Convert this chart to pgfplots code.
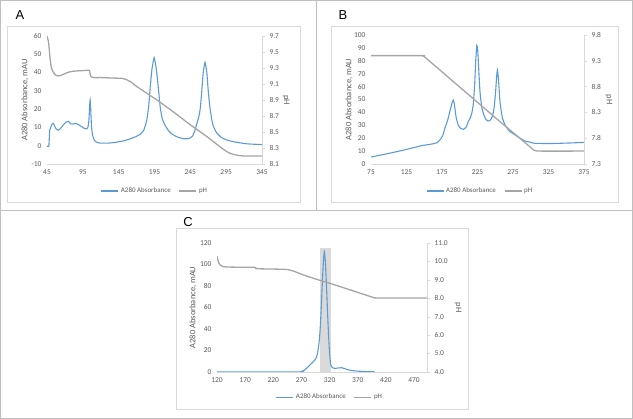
\documentclass[border=0pt]{standalone}
\usepackage{fontspec}
\setmainfont{Carlito}
\newfontfamily\panelfont{Liberation Sans}
\usepackage{pgfplots}
\pgfplotsset{compat=1.18}

\definecolor{absblue}{HTML}{5B9BD5}
\definecolor{phgray}{HTML}{A5A5A5}
\definecolor{txt}{HTML}{595959}
\definecolor{axisln}{HTML}{D9D9D9}
\definecolor{framegray}{HTML}{BFBFBF}
\definecolor{band}{HTML}{DADADA}

\newcommand\tickfont{\fontsize{7.5}{9}\selectfont}
\newcommand\labfont{\fontsize{8.5}{10}\selectfont}
\newcommand\legfont{\fontsize{7}{8}\selectfont}

\pgfplotsset{
  base/.style={
    scale only axis,
    ticklabel style={font=\tickfont, text=txt},
    label style={font=\labfont, text=txt},
    /pgf/number format/assume math mode=true,
  },
  prim/.style={
    base,
    axis x line*=bottom, axis y line*=left,
    x axis line style={axisln, -},
    y axis line style={draw=none},
    major tick length=0pt,
    xticklabel style={yshift=-2bp},
    yticklabel style={xshift=-2bp},
    ylabel style={anchor=center},
    legend style={draw=none, fill=none, font=\legfont, text=txt,
      legend columns=2, anchor=center,
      /tikz/every even column/.append style={column sep=6bp}},
    legend image code/.code={\draw[##1] (0bp,0bp) -- (17bp,0bp);},
  },
  sec/.style={
    base,
    axis x line=none, axis y line*=right,
    y axis line style={axisln, -},
    tick align=outside, major tick length=3bp,
    ytick style={axisln},
    yticklabel style={xshift=1bp},
    ylabel style={rotate=180, anchor=center},
  },
  absline/.style={absblue, line width=1.1bp, smooth, tension=0.3},
  phline/.style={phgray, line width=1.3bp, smooth, tension=0.3},
}

\begin{document}
\begin{tikzpicture}
\useasboundingbox (0,0) rectangle (633bp,419bp);
% frames
\draw[framegray, line width=0.8bp] (0.5bp,0.5bp) rectangle (632.5bp,418.5bp);
\draw[framegray, line width=0.8bp] (0,209bp) -- (633bp,209bp);
\draw[framegray, line width=0.8bp] (316bp,209bp) -- (316bp,419bp);
\draw[axisln, line width=0.6bp] (7bp,217bp) rectangle (300bp,393bp);
\draw[axisln, line width=0.6bp] (331bp,217bp) rectangle (618bp,393bp);
\draw[axisln, line width=0.6bp] (176bp,10bp) rectangle (468bp,191bp);
\node[font=\panelfont\fontsize{13}{15}\selectfont] at (20bp,404bp) {A};
\node[font=\panelfont\fontsize{13}{15}\selectfont] at (343bp,404bp) {B};
\node[font=\panelfont\fontsize{13}{15}\selectfont] at (188bp,197bp) {C};

% ---------- panel A ----------
\begin{axis}[prim, at={(47bp,255bp)}, anchor=south west, width=215bp, height=128bp,
  xmin=45, xmax=345, ymin=-10, ymax=60,
  xtick={45,95,...,345}, ytick={-10,0,...,60},
  ylabel={A280 Absorbance, mAU},
  ylabel style={at={(axis description cs:-0.102,0.5)}},
  legend style={at={(0.502,-0.211)}}]
\addplot[absline] coordinates {
(45,-0.3) (47.5,-0.3) (48.2,4) (48.8,8.5) (50,9.8) (52,11.8) (54,12.2) (56,10.5)
(58,9) (61,8.5) (64,9.5) (68,11.5) (72,13) (75,13.3) (78,12) (81,11.8) (85,12.2)
(89,11.5) (93,10.5) (97,9.5) (100,9.2) (102,10) (103.5,14) (104.5,22) (105.2,25)
(106,20) (107,11) (108.5,6) (111,3) (115,1.8) (120,1.4) (130,1.4) (140,1.8)
(150,2.5) (160,3.6) (168,4.8) (175,6.2) (180,8.5) (184,13.5) (187,22) (189,32)
(191.5,42) (194.5,48.2) (197.5,42) (200,33) (203,21) (206,14.5) (210,11)
(215,8) (220,6.2) (228,4.6) (236,3.8) (243,3.9) (248,5.2) (251.5,8.5) (254,12)
(257,16) (259,21) (261,30) (263,40) (265.5,45.6) (268,40) (270,30) (272.5,20.5)
(276,12) (281,7.5) (288,4.6) (296,3.1) (305,2.2) (314,1.6) (325,1.0) (345,0.6)
};
\addlegendentry{A280 Absorbance}
\addlegendimage{phline}
\addlegendentry{pH}
\end{axis}
\begin{axis}[sec, at={(47bp,255bp)}, anchor=south west, width=215bp, height=128bp,
  xmin=45, xmax=345, ymin=8.1, ymax=9.7,
  ytick={8.1,8.3,8.5,8.7,8.9,9.1,9.3,9.5,9.7},
  yticklabel style={/pgf/number format/.cd, fixed, fixed zerofill, precision=1},
  ylabel={pH},
  ylabel style={at={(axis description cs:1.112,0.5)}}]
\addplot[phline] coordinates {
(45,9.7) (45.6,9.68) (46.5,9.65) (47.5,9.6) (48.5,9.5) (49.5,9.4) (51,9.31)
(53,9.26) (56,9.22) (60,9.2) (65,9.21) (70,9.23) (76,9.25) (82,9.26) (90,9.265)
(100,9.27) (104,9.27) (105,9.24) (106,9.195) (110,9.18) (120,9.18) (135,9.175)
(150,9.17) (157,9.15) (163,9.12) (170,9.07) (180,9.01) (190,8.95) (200,8.89)
(220,8.76) (245,8.59) (270,8.43) (290,8.29) (300,8.235) (310,8.21) (320,8.2)
(345,8.2)
};
\end{axis}

% ---------- panel B ----------
\begin{axis}[prim, at={(371bp,255bp)}, anchor=south west, width=213bp, height=129bp,
  xmin=75, xmax=375, ymin=0, ymax=100,
  xtick={75,125,...,375}, ytick={0,10,...,100},
  ylabel={A280 Absorbance, mAU},
  ylabel style={at={(axis description cs:-0.103,0.5)}},
  legend style={at={(0.512,-0.209)}}]
\addplot[absline] coordinates {
(75,5.4) (100,8.2) (125,11.3) (146,14.2) (160,15.4) (168,16.5) (172,18.6)
(176,22) (179,27.7) (183,34) (186,40.6) (189,47) (190.9,49.6) (192.5,46)
(195,36) (198,30) (201,27.8) (205,26.9) (209,28.5) (212,32.8) (215,36)
(217,39.5) (219,46) (221,62) (222.5,80) (224,91.8) (225.2,89) (226.5,76)
(228.5,56) (231,44) (234,38) (237,34.5) (240,33.3) (243,34) (246,37) (248.5,44)
(250.5,56) (252,68) (253,72.9) (254.5,66) (256.7,48) (260,36) (264,30)
(270,25.5) (278,22.5) (285,20) (292,17.8) (300,16.8) (306,16) (330,15.9)
(350,16.2) (365,16.5) (375,16.8)
};
\addlegendentry{A280 Absorbance}
\addlegendimage{phline}
\addlegendentry{pH}
\end{axis}
\begin{axis}[sec, at={(371bp,255bp)}, anchor=south west, width=213bp, height=129bp,
  xmin=75, xmax=375, ymin=7.3, ymax=9.8,
  ytick={7.3,7.8,8.3,8.8,9.3,9.8},
  yticklabel style={/pgf/number format/.cd, fixed, fixed zerofill, precision=1},
  ylabel={pH},
  ylabel style={at={(axis description cs:1.117,0.5)}}]
\addplot[phline] coordinates {
(75,9.4) (145,9.4) (148,9.395) (151,9.37) (200,8.79) (250,8.2) (300,7.62)
(304,7.57) (308,7.553) (312,7.55) (375,7.55)
};
\end{axis}

% ---------- panel C ----------
\begin{axis}[prim, at={(217bp,47bp)}, anchor=south west, width=210bp, height=129bp,
  xmin=120, xmax=493, ymin=0, ymax=120,
  xtick={120,170,...,470}, ytick={0,20,...,120},
  ylabel={A280 Absorbance, mAU},
  ylabel style={at={(axis description cs:-0.114,0.5)}},
  legend style={at={(0.538,-0.196)}},
  legend entries={A280 Absorbance, pH}]
\addlegendimage{absblue, line width=1.1bp}
\addlegendimage{phgray, line width=1.3bp}
% shaded fraction band, behind the curve
\addplot[fill=band, draw=none, forget plot] coordinates {
(303,0) (303,115) (322,115) (322,0)
} -- cycle;
\addplot[absline, forget plot] coordinates {
(120,0) (265,0) (270,0.5) (276,2) (282,5) (287,7.5) (291,9.6) (295,12) (298,16)
(301,26) (303,38) (305,58) (307,82) (309,103) (310.6,112) (312,106) (314,86)
(316,60) (318,36) (320,17) (322,7) (325,4) (330,3.4) (336,3.8) (341,4)
(346,3.3) (352,2.2) (360,1.3) (370,0.8) (385,0.4) (400,0.2)
};
\end{axis}
\begin{axis}[sec, at={(217bp,47bp)}, anchor=south west, width=210bp, height=129bp,
  xmin=120, xmax=493, ymin=4, ymax=11,
  ytick={4,5,...,11},
  yticklabel style={/pgf/number format/.cd, fixed, fixed zerofill, precision=1},
  ylabel={pH},
  ylabel style={at={(axis description cs:1.148,0.5)}}]
\addplot[phline] coordinates {
(120,10.3) (121,10.15) (123,9.92) (126,9.8) (130,9.73) (136,9.7) (150,9.69)
(187,9.68) (189,9.62) (195,9.6) (230,9.58) (245,9.56) (255,9.48) (265,9.37)
(275,9.25) (300,9.0) (330,8.72) (360,8.42) (380,8.22) (390,8.12) (396,8.06)
(400,8.03) (405,8.02) (493,8.02)
};
\end{axis}
\end{tikzpicture}
\end{document}
